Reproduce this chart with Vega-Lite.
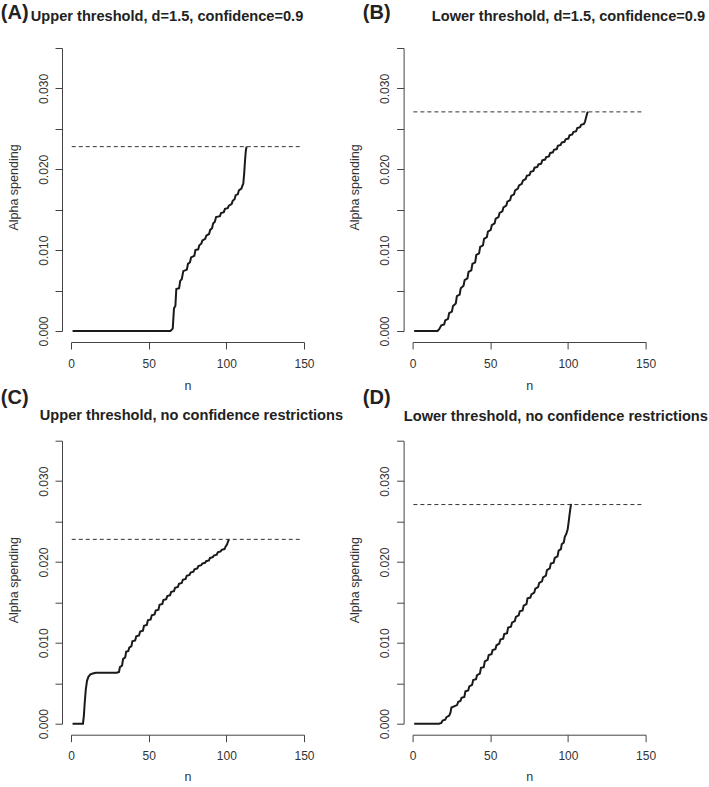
{
  "$schema": "https://vega.github.io/schema/vega-lite/v6.json",
  "background": "white",
  "padding": {"left": 0, "top": 2, "right": 0, "bottom": 0},
  "config": {
    "view": {"stroke": null},
    "font": "Liberation Sans",
    "axis": {
      "grid": false,
      "domainColor": "#444",
      "tickColor": "#444",
      "labelColor": "#333",
      "titleColor": "#333",
      "labelFont": "Liberation Sans",
      "titleFont": "Liberation Sans",
      "labelFontSize": 12,
      "titleFontSize": 12.5,
      "titleFontWeight": "normal",
      "tickSize": 7,
      "domainWidth": 1,
      "tickWidth": 1
    }
  },
  "datasets": {
    "curves": [
      {"panel": "A", "n": 1, "alpha": 0}, {"panel": "A", "n": 64, "alpha": 0}, {"panel": "A", "n": 65.5, "alpha": 0.0003}, {"panel": "A", "n": 66.3, "alpha": 0.0028}, {"panel": "A", "n": 67.2, "alpha": 0.0031}, {"panel": "A", "n": 67.8, "alpha": 0.0052}, {"panel": "A", "n": 69.6, "alpha": 0.0053}, {"panel": "A", "n": 70.3, "alpha": 0.0062}, {"panel": "A", "n": 71.3, "alpha": 0.0064}, {"panel": "A", "n": 72.3, "alpha": 0.0074}, {"panel": "A", "n": 74.6, "alpha": 0.0076}, {"panel": "A", "n": 75.3, "alpha": 0.0083}, {"panel": "A", "n": 76.6, "alpha": 0.0085}, {"panel": "A", "n": 77.3, "alpha": 0.0091}, {"panel": "A", "n": 79.4, "alpha": 0.0093}, {"panel": "A", "n": 80.1, "alpha": 0.0100}, {"panel": "A", "n": 81.9, "alpha": 0.0101}, {"panel": "A", "n": 82.6, "alpha": 0.0106}, {"panel": "A", "n": 83.9, "alpha": 0.0108}, {"panel": "A", "n": 84.6, "alpha": 0.0112}, {"panel": "A", "n": 86.4, "alpha": 0.0114}, {"panel": "A", "n": 87.1, "alpha": 0.0118}, {"panel": "A", "n": 88.9, "alpha": 0.0120}, {"panel": "A", "n": 89.6, "alpha": 0.0125}, {"panel": "A", "n": 90.8, "alpha": 0.0127}, {"panel": "A", "n": 91.5, "alpha": 0.0133}, {"panel": "A", "n": 92.6, "alpha": 0.0135}, {"panel": "A", "n": 93.4, "alpha": 0.0141}, {"panel": "A", "n": 95.9, "alpha": 0.0142}, {"panel": "A", "n": 96.6, "alpha": 0.0146}, {"panel": "A", "n": 98.4, "alpha": 0.0147}, {"panel": "A", "n": 99.1, "alpha": 0.0151}, {"panel": "A", "n": 100.9, "alpha": 0.0152}, {"panel": "A", "n": 101.6, "alpha": 0.0155}, {"panel": "A", "n": 103.4, "alpha": 0.0157}, {"panel": "A", "n": 104.1, "alpha": 0.0161}, {"panel": "A", "n": 105.3, "alpha": 0.0163}, {"panel": "A", "n": 106, "alpha": 0.0168}, {"panel": "A", "n": 107.4, "alpha": 0.0169}, {"panel": "A", "n": 108.1, "alpha": 0.0174}, {"panel": "A", "n": 109.7, "alpha": 0.0176}, {"panel": "A", "n": 110.4, "alpha": 0.0180}, {"panel": "A", "n": 110.9, "alpha": 0.0182}, {"panel": "A", "n": 111.5, "alpha": 0.0195}, {"panel": "A", "n": 112, "alpha": 0.0210}, {"panel": "A", "n": 112.5, "alpha": 0.0222}, {"panel": "A", "n": 113, "alpha": 0.0228},

      {"panel": "B", "n": 1, "alpha": 0}, {"panel": "B", "n": 16, "alpha": 0}, {"panel": "B", "n": 17, "alpha": 0.0002}, {"panel": "B", "n": 18.5, "alpha": 0.0007}, {"panel": "B", "n": 20.3, "alpha": 0.0008}, {"panel": "B", "n": 21, "alpha": 0.0013}, {"panel": "B", "n": 22.8, "alpha": 0.0015}, {"panel": "B", "n": 23.5, "alpha": 0.0022}, {"panel": "B", "n": 25.3, "alpha": 0.0024}, {"panel": "B", "n": 26, "alpha": 0.0031}, {"panel": "B", "n": 27.8, "alpha": 0.0034}, {"panel": "B", "n": 28.5, "alpha": 0.0043}, {"panel": "B", "n": 30.3, "alpha": 0.0045}, {"panel": "B", "n": 31, "alpha": 0.0053}, {"panel": "B", "n": 32.8, "alpha": 0.0056}, {"panel": "B", "n": 33.5, "alpha": 0.0063}, {"panel": "B", "n": 35.3, "alpha": 0.0065}, {"panel": "B", "n": 36, "alpha": 0.0073}, {"panel": "B", "n": 37.8, "alpha": 0.0075}, {"panel": "B", "n": 38.5, "alpha": 0.0083}, {"panel": "B", "n": 40.3, "alpha": 0.0085}, {"panel": "B", "n": 41, "alpha": 0.0094}, {"panel": "B", "n": 42.8, "alpha": 0.0096}, {"panel": "B", "n": 43.5, "alpha": 0.0104}, {"panel": "B", "n": 45.3, "alpha": 0.0106}, {"panel": "B", "n": 46, "alpha": 0.0114}, {"panel": "B", "n": 47.8, "alpha": 0.0116}, {"panel": "B", "n": 48.5, "alpha": 0.0123}, {"panel": "B", "n": 50.3, "alpha": 0.0125}, {"panel": "B", "n": 51, "alpha": 0.0131}, {"panel": "B", "n": 52.8, "alpha": 0.0133}, {"panel": "B", "n": 53.5, "alpha": 0.0139}, {"panel": "B", "n": 55.3, "alpha": 0.0141}, {"panel": "B", "n": 56, "alpha": 0.0146}, {"panel": "B", "n": 57.8, "alpha": 0.0148}, {"panel": "B", "n": 58.5, "alpha": 0.0153}, {"panel": "B", "n": 60.3, "alpha": 0.0155}, {"panel": "B", "n": 61, "alpha": 0.0160}, {"panel": "B", "n": 62.8, "alpha": 0.0162}, {"panel": "B", "n": 63.5, "alpha": 0.0167}, {"panel": "B", "n": 65.3, "alpha": 0.0169}, {"panel": "B", "n": 66, "alpha": 0.0174}, {"panel": "B", "n": 67.8, "alpha": 0.0176}, {"panel": "B", "n": 68.5, "alpha": 0.0180}, {"panel": "B", "n": 70.3, "alpha": 0.0182}, {"panel": "B", "n": 71, "alpha": 0.0186}, {"panel": "B", "n": 72.8, "alpha": 0.0188}, {"panel": "B", "n": 73.5, "alpha": 0.0192}, {"panel": "B", "n": 75.3, "alpha": 0.0193}, {"panel": "B", "n": 76, "alpha": 0.0197}, {"panel": "B", "n": 77.8, "alpha": 0.0198}, {"panel": "B", "n": 78.5, "alpha": 0.0202}, {"panel": "B", "n": 80.3, "alpha": 0.0203}, {"panel": "B", "n": 81, "alpha": 0.0206}, {"panel": "B", "n": 82.8, "alpha": 0.0207}, {"panel": "B", "n": 83.5, "alpha": 0.0211}, {"panel": "B", "n": 85.3, "alpha": 0.0212}, {"panel": "B", "n": 86, "alpha": 0.0215}, {"panel": "B", "n": 87.8, "alpha": 0.0216}, {"panel": "B", "n": 88.5, "alpha": 0.0220}, {"panel": "B", "n": 90.3, "alpha": 0.0221}, {"panel": "B", "n": 91, "alpha": 0.0224}, {"panel": "B", "n": 92.8, "alpha": 0.0225}, {"panel": "B", "n": 93.5, "alpha": 0.0229}, {"panel": "B", "n": 95.3, "alpha": 0.0230}, {"panel": "B", "n": 96, "alpha": 0.0233}, {"panel": "B", "n": 97.8, "alpha": 0.0234}, {"panel": "B", "n": 98.5, "alpha": 0.0237}, {"panel": "B", "n": 100.3, "alpha": 0.0238}, {"panel": "B", "n": 101, "alpha": 0.0242}, {"panel": "B", "n": 102.8, "alpha": 0.0243}, {"panel": "B", "n": 103.5, "alpha": 0.0246}, {"panel": "B", "n": 105.3, "alpha": 0.0247}, {"panel": "B", "n": 106, "alpha": 0.0251}, {"panel": "B", "n": 107.8, "alpha": 0.0252}, {"panel": "B", "n": 108.5, "alpha": 0.0255}, {"panel": "B", "n": 110.3, "alpha": 0.0256}, {"panel": "B", "n": 111, "alpha": 0.0259}, {"panel": "B", "n": 111.8, "alpha": 0.0265}, {"panel": "B", "n": 112.5, "alpha": 0.0270}, {"panel": "B", "n": 113, "alpha": 0.0271},

      {"panel": "C", "n": 1, "alpha": 0}, {"panel": "C", "n": 7.7, "alpha": 0}, {"panel": "C", "n": 8.3, "alpha": 0.0010}, {"panel": "C", "n": 8.8, "alpha": 0.0025}, {"panel": "C", "n": 9.5, "alpha": 0.0042}, {"panel": "C", "n": 10.3, "alpha": 0.0053}, {"panel": "C", "n": 11.2, "alpha": 0.0058}, {"panel": "C", "n": 12.5, "alpha": 0.0061}, {"panel": "C", "n": 14, "alpha": 0.0062}, {"panel": "C", "n": 16, "alpha": 0.0063}, {"panel": "C", "n": 29.5, "alpha": 0.0063}, {"panel": "C", "n": 30.9, "alpha": 0.0064}, {"panel": "C", "n": 31.5, "alpha": 0.0070}, {"panel": "C", "n": 32.9, "alpha": 0.0072}, {"panel": "C", "n": 33.5, "alpha": 0.0080}, {"panel": "C", "n": 34.9, "alpha": 0.0082}, {"panel": "C", "n": 35.5, "alpha": 0.0089}, {"panel": "C", "n": 36.9, "alpha": 0.0090}, {"panel": "C", "n": 37.5, "alpha": 0.0094}, {"panel": "C", "n": 38.9, "alpha": 0.0096}, {"panel": "C", "n": 39.5, "alpha": 0.0102}, {"panel": "C", "n": 41.3, "alpha": 0.0103}, {"panel": "C", "n": 42, "alpha": 0.0108}, {"panel": "C", "n": 43.8, "alpha": 0.0109}, {"panel": "C", "n": 44.5, "alpha": 0.0114}, {"panel": "C", "n": 46.3, "alpha": 0.0115}, {"panel": "C", "n": 47, "alpha": 0.0121}, {"panel": "C", "n": 48.8, "alpha": 0.0122}, {"panel": "C", "n": 49.5, "alpha": 0.0128}, {"panel": "C", "n": 51.3, "alpha": 0.0129}, {"panel": "C", "n": 52, "alpha": 0.0134}, {"panel": "C", "n": 53.8, "alpha": 0.0135}, {"panel": "C", "n": 54.5, "alpha": 0.0140}, {"panel": "C", "n": 56.3, "alpha": 0.0141}, {"panel": "C", "n": 57, "alpha": 0.0147}, {"panel": "C", "n": 58.8, "alpha": 0.0148}, {"panel": "C", "n": 59.5, "alpha": 0.0153}, {"panel": "C", "n": 61.3, "alpha": 0.0154}, {"panel": "C", "n": 62, "alpha": 0.0158}, {"panel": "C", "n": 63.8, "alpha": 0.0159}, {"panel": "C", "n": 64.5, "alpha": 0.0163}, {"panel": "C", "n": 66.3, "alpha": 0.0164}, {"panel": "C", "n": 67, "alpha": 0.0168}, {"panel": "C", "n": 68.8, "alpha": 0.0169}, {"panel": "C", "n": 69.5, "alpha": 0.0173}, {"panel": "C", "n": 71.3, "alpha": 0.0174}, {"panel": "C", "n": 72, "alpha": 0.0178}, {"panel": "C", "n": 73.8, "alpha": 0.0179}, {"panel": "C", "n": 74.5, "alpha": 0.0183}, {"panel": "C", "n": 76.3, "alpha": 0.0184}, {"panel": "C", "n": 77, "alpha": 0.0187}, {"panel": "C", "n": 78.8, "alpha": 0.0188}, {"panel": "C", "n": 79.5, "alpha": 0.0191}, {"panel": "C", "n": 81.3, "alpha": 0.0192}, {"panel": "C", "n": 82, "alpha": 0.0195}, {"panel": "C", "n": 83.8, "alpha": 0.0196}, {"panel": "C", "n": 84.5, "alpha": 0.0198}, {"panel": "C", "n": 86.3, "alpha": 0.0199}, {"panel": "C", "n": 87, "alpha": 0.0201}, {"panel": "C", "n": 88.8, "alpha": 0.0202}, {"panel": "C", "n": 89.5, "alpha": 0.0205}, {"panel": "C", "n": 91.3, "alpha": 0.0206}, {"panel": "C", "n": 92, "alpha": 0.0208}, {"panel": "C", "n": 93.8, "alpha": 0.0209}, {"panel": "C", "n": 94.5, "alpha": 0.0212}, {"panel": "C", "n": 96.3, "alpha": 0.0213}, {"panel": "C", "n": 97, "alpha": 0.0215}, {"panel": "C", "n": 98.8, "alpha": 0.0216}, {"panel": "C", "n": 99.5, "alpha": 0.0219}, {"panel": "C", "n": 100.5, "alpha": 0.0222}, {"panel": "C", "n": 101.2, "alpha": 0.0226}, {"panel": "C", "n": 101.8, "alpha": 0.0228},

      {"panel": "D", "n": 1, "alpha": 0}, {"panel": "D", "n": 17, "alpha": 0}, {"panel": "D", "n": 18.5, "alpha": 0.0001}, {"panel": "D", "n": 19.3, "alpha": 0.0004}, {"panel": "D", "n": 21, "alpha": 0.0005}, {"panel": "D", "n": 21.8, "alpha": 0.0008}, {"panel": "D", "n": 23.6, "alpha": 0.0010}, {"panel": "D", "n": 24.4, "alpha": 0.0014}, {"panel": "D", "n": 25, "alpha": 0.0020}, {"panel": "D", "n": 28.6, "alpha": 0.0023}, {"panel": "D", "n": 29.4, "alpha": 0.0027}, {"panel": "D", "n": 30.8, "alpha": 0.0028}, {"panel": "D", "n": 31.5, "alpha": 0.0032}, {"panel": "D", "n": 33.3, "alpha": 0.0033}, {"panel": "D", "n": 34, "alpha": 0.0040}, {"panel": "D", "n": 35.8, "alpha": 0.0041}, {"panel": "D", "n": 36.5, "alpha": 0.0046}, {"panel": "D", "n": 38.3, "alpha": 0.0048}, {"panel": "D", "n": 39, "alpha": 0.0054}, {"panel": "D", "n": 40.8, "alpha": 0.0055}, {"panel": "D", "n": 41.5, "alpha": 0.0060}, {"panel": "D", "n": 43.3, "alpha": 0.0062}, {"panel": "D", "n": 44, "alpha": 0.0069}, {"panel": "D", "n": 45.8, "alpha": 0.0070}, {"panel": "D", "n": 46.5, "alpha": 0.0077}, {"panel": "D", "n": 48.3, "alpha": 0.0079}, {"panel": "D", "n": 49, "alpha": 0.0085}, {"panel": "D", "n": 50.8, "alpha": 0.0086}, {"panel": "D", "n": 51.5, "alpha": 0.0091}, {"panel": "D", "n": 53.3, "alpha": 0.0092}, {"panel": "D", "n": 54, "alpha": 0.0097}, {"panel": "D", "n": 55.8, "alpha": 0.0099}, {"panel": "D", "n": 56.5, "alpha": 0.0104}, {"panel": "D", "n": 58.3, "alpha": 0.0105}, {"panel": "D", "n": 59, "alpha": 0.0111}, {"panel": "D", "n": 60.8, "alpha": 0.0112}, {"panel": "D", "n": 61.5, "alpha": 0.0119}, {"panel": "D", "n": 63.3, "alpha": 0.0120}, {"panel": "D", "n": 64, "alpha": 0.0125}, {"panel": "D", "n": 65.8, "alpha": 0.0127}, {"panel": "D", "n": 66.5, "alpha": 0.0132}, {"panel": "D", "n": 68.3, "alpha": 0.0134}, {"panel": "D", "n": 69, "alpha": 0.0139}, {"panel": "D", "n": 70.8, "alpha": 0.0140}, {"panel": "D", "n": 71.5, "alpha": 0.0146}, {"panel": "D", "n": 73.3, "alpha": 0.0148}, {"panel": "D", "n": 74, "alpha": 0.0155}, {"panel": "D", "n": 75.8, "alpha": 0.0156}, {"panel": "D", "n": 76.5, "alpha": 0.0160}, {"panel": "D", "n": 78.3, "alpha": 0.0162}, {"panel": "D", "n": 79, "alpha": 0.0167}, {"panel": "D", "n": 80.8, "alpha": 0.0169}, {"panel": "D", "n": 81.5, "alpha": 0.0174}, {"panel": "D", "n": 83.3, "alpha": 0.0176}, {"panel": "D", "n": 84, "alpha": 0.0181}, {"panel": "D", "n": 85.8, "alpha": 0.0183}, {"panel": "D", "n": 86.5, "alpha": 0.0190}, {"panel": "D", "n": 88.3, "alpha": 0.0192}, {"panel": "D", "n": 89, "alpha": 0.0198}, {"panel": "D", "n": 90.8, "alpha": 0.0199}, {"panel": "D", "n": 91.5, "alpha": 0.0205}, {"panel": "D", "n": 93.3, "alpha": 0.0207}, {"panel": "D", "n": 94, "alpha": 0.0214}, {"panel": "D", "n": 95.5, "alpha": 0.0216}, {"panel": "D", "n": 96, "alpha": 0.0222}, {"panel": "D", "n": 97.3, "alpha": 0.0224}, {"panel": "D", "n": 98, "alpha": 0.0231}, {"panel": "D", "n": 99, "alpha": 0.0235}, {"panel": "D", "n": 99.8, "alpha": 0.0240}, {"panel": "D", "n": 100.5, "alpha": 0.0250}, {"panel": "D", "n": 101, "alpha": 0.0258}, {"panel": "D", "n": 101.5, "alpha": 0.0265}, {"panel": "D", "n": 102, "alpha": 0.0272}
    ],
    "thresholds": [
      {"panel": "A", "start": 0.5, "end": 149, "value": 0.0228},
      {"panel": "B", "start": 0.5, "end": 149, "value": 0.0271},
      {"panel": "C", "start": 0.5, "end": 149, "value": 0.0228},
      {"panel": "D", "start": 0.5, "end": 149, "value": 0.0271}
    ]
  },
  "columns": 2,
  "bounds": "flush",
  "spacing": {"column": 108.6, "row": 109.7},
  "concat": [
    {
      "width": 233, "height": 283,
      "layer": [
        {
          "data": {"name": "curves"},
          "transform": [{"filter": "datum.panel == 'A'"}],
          "mark": {"type": "line", "stroke": "#1a1a1a", "strokeWidth": 2},
          "encoding": {
            "x": {"field": "n", "type": "quantitative", "scale": {"domain": [0, 150], "nice": false, "zero": false},
              "axis": {"orient": "bottom", "values": [0, 50, 100, 150], "offset": 11, "title": "n", "titleColor": "#333", "titleX": 116.5, "titleY": 47, "titleAlign": "center", "titleBaseline": "alphabetic", "labelBaseline": "top", "labelPadding": 9, "labelFlush": false, "labelOverlap": false}},
            "y": {"field": "alpha", "type": "quantitative", "scale": {"domain": [0, 0.035], "nice": false},
              "axis": {"orient": "left", "values": [0, 0.005, 0.01, 0.015, 0.02, 0.025, 0.03, 0.035], "offset": 9, "title": "Alpha spending", "titleAngle": 270, "titleX": -45, "titleY": 139, "titleAlign": "center", "titleBaseline": "alphabetic", "labelAngle": 270, "labelAlign": "center", "labelBaseline": "alphabetic", "labelPadding": 8, "labelFlush": false, "labelOverlap": false, "labelExpr": "round(datum.value*1000) % 10 == 0 ? format(datum.value, '.3f') : ''"}}
          }
        },
        {
          "data": {"name": "thresholds"},
          "transform": [{"filter": "datum.panel == 'A'"}],
          "mark": {"type": "rule", "stroke": "#333", "strokeWidth": 1, "strokeDash": [4, 3]},
          "encoding": {
            "x": {"field": "start", "type": "quantitative", "scale": {"domain": [0, 150], "nice": false, "zero": false},
              "axis": {"orient": "top", "domain": false, "ticks": false, "labels": false, "title": "Upper threshold, d=1.5, confidence=0.9", "titleX": -40.7, "titleY": -27.4, "titleAlign": "left", "titleBaseline": "alphabetic", "titleFontSize": 14.6, "titleFontWeight": "bold", "titleColor": "#222"}},
            "x2": {"field": "end"},
            "y": {"field": "value", "type": "quantitative",
              "axis": {"orient": "right", "domain": false, "ticks": false, "labels": false, "title": "(A)", "titleAngle": 0, "titleX": -303.7, "titleY": -30, "titleAlign": "left", "titleBaseline": "alphabetic", "titleFontSize": 20, "titleFontWeight": "bold", "titleColor": "#222"}}
          }
        }
      ],
      "resolve": {"axis": {"x": "independent", "y": "independent"}}
    },
    {
      "width": 233, "height": 283,
      "layer": [
        {
          "data": {"name": "curves"},
          "transform": [{"filter": "datum.panel == 'B'"}],
          "mark": {"type": "line", "stroke": "#1a1a1a", "strokeWidth": 2},
          "encoding": {
            "x": {"field": "n", "type": "quantitative", "scale": {"domain": [0, 150], "nice": false, "zero": false},
              "axis": {"orient": "bottom", "values": [0, 50, 100, 150], "offset": 11, "title": "n", "titleColor": "#333", "titleX": 116.5, "titleY": 47, "titleAlign": "center", "titleBaseline": "alphabetic", "labelBaseline": "top", "labelPadding": 9, "labelFlush": false, "labelOverlap": false}},
            "y": {"field": "alpha", "type": "quantitative", "scale": {"domain": [0, 0.035], "nice": false},
              "axis": {"orient": "left", "values": [0, 0.005, 0.01, 0.015, 0.02, 0.025, 0.03, 0.035], "offset": 9, "title": "Alpha spending", "titleAngle": 270, "titleX": -45, "titleY": 139, "titleAlign": "center", "titleBaseline": "alphabetic", "labelAngle": 270, "labelAlign": "center", "labelBaseline": "alphabetic", "labelPadding": 8, "labelFlush": false, "labelOverlap": false, "labelExpr": "round(datum.value*1000) % 10 == 0 ? format(datum.value, '.3f') : ''"}}
          }
        },
        {
          "data": {"name": "thresholds"},
          "transform": [{"filter": "datum.panel == 'B'"}],
          "mark": {"type": "rule", "stroke": "#333", "strokeWidth": 1, "strokeDash": [4, 3]},
          "encoding": {
            "x": {"field": "start", "type": "quantitative", "scale": {"domain": [0, 150], "nice": false, "zero": false},
              "axis": {"orient": "top", "domain": false, "ticks": false, "labels": false, "title": "Lower threshold, d=1.5, confidence=0.9", "titleX": 18.7, "titleY": -27.3, "titleAlign": "left", "titleBaseline": "alphabetic", "titleFontSize": 14.6, "titleFontWeight": "bold", "titleColor": "#222"}},
            "x2": {"field": "end"},
            "y": {"field": "value", "type": "quantitative",
              "axis": {"orient": "right", "domain": false, "ticks": false, "labels": false, "title": "(B)", "titleAngle": 0, "titleX": -283.3, "titleY": -30, "titleAlign": "left", "titleBaseline": "alphabetic", "titleFontSize": 20, "titleFontWeight": "bold", "titleColor": "#222"}}
          }
        }
      ],
      "resolve": {"axis": {"x": "independent", "y": "independent"}}
    },
    {
      "width": 233, "height": 283,
      "layer": [
        {
          "data": {"name": "curves"},
          "transform": [{"filter": "datum.panel == 'C'"}],
          "mark": {"type": "line", "stroke": "#1a1a1a", "strokeWidth": 2},
          "encoding": {
            "x": {"field": "n", "type": "quantitative", "scale": {"domain": [0, 150], "nice": false, "zero": false},
              "axis": {"orient": "bottom", "values": [0, 50, 100, 150], "offset": 11, "title": "n", "titleColor": "#333", "titleX": 116.5, "titleY": 46, "titleAlign": "center", "titleBaseline": "alphabetic", "labelBaseline": "top", "labelPadding": 9, "labelFlush": false, "labelOverlap": false}},
            "y": {"field": "alpha", "type": "quantitative", "scale": {"domain": [0, 0.035], "nice": false},
              "axis": {"orient": "left", "values": [0, 0.005, 0.01, 0.015, 0.02, 0.025, 0.03, 0.035], "offset": 9, "title": "Alpha spending", "titleAngle": 270, "titleX": -45, "titleY": 139, "titleAlign": "center", "titleBaseline": "alphabetic", "labelAngle": 270, "labelAlign": "center", "labelBaseline": "alphabetic", "labelPadding": 8, "labelFlush": false, "labelOverlap": false, "labelExpr": "round(datum.value*1000) % 10 == 0 ? format(datum.value, '.3f') : ''"}}
          }
        },
        {
          "data": {"name": "thresholds"},
          "transform": [{"filter": "datum.panel == 'C'"}],
          "mark": {"type": "rule", "stroke": "#333", "strokeWidth": 1, "strokeDash": [4, 3]},
          "encoding": {
            "x": {"field": "start", "type": "quantitative", "scale": {"domain": [0, 150], "nice": false, "zero": false},
              "axis": {"orient": "top", "domain": false, "ticks": false, "labels": false, "title": "Upper threshold, no confidence restrictions", "titleX": -31.7, "titleY": -21.4, "titleAlign": "left", "titleBaseline": "alphabetic", "titleFontSize": 14.6, "titleFontWeight": "bold", "titleColor": "#222"}},
            "x2": {"field": "end"},
            "y": {"field": "value", "type": "quantitative",
              "axis": {"orient": "right", "domain": false, "ticks": false, "labels": false, "title": "(C)", "titleAngle": 0, "titleX": -303.7, "titleY": -37.7, "titleAlign": "left", "titleBaseline": "alphabetic", "titleFontSize": 20, "titleFontWeight": "bold", "titleColor": "#222"}}
          }
        }
      ],
      "resolve": {"axis": {"x": "independent", "y": "independent"}}
    },
    {
      "width": 233, "height": 283,
      "layer": [
        {
          "data": {"name": "curves"},
          "transform": [{"filter": "datum.panel == 'D'"}],
          "mark": {"type": "line", "stroke": "#1a1a1a", "strokeWidth": 2},
          "encoding": {
            "x": {"field": "n", "type": "quantitative", "scale": {"domain": [0, 150], "nice": false, "zero": false},
              "axis": {"orient": "bottom", "values": [0, 50, 100, 150], "offset": 11, "title": "n", "titleColor": "#333", "titleX": 116.5, "titleY": 46, "titleAlign": "center", "titleBaseline": "alphabetic", "labelBaseline": "top", "labelPadding": 9, "labelFlush": false, "labelOverlap": false}},
            "y": {"field": "alpha", "type": "quantitative", "scale": {"domain": [0, 0.035], "nice": false},
              "axis": {"orient": "left", "values": [0, 0.005, 0.01, 0.015, 0.02, 0.025, 0.03, 0.035], "offset": 9, "title": "Alpha spending", "titleAngle": 270, "titleX": -45, "titleY": 139, "titleAlign": "center", "titleBaseline": "alphabetic", "labelAngle": 270, "labelAlign": "center", "labelBaseline": "alphabetic", "labelPadding": 8, "labelFlush": false, "labelOverlap": false, "labelExpr": "round(datum.value*1000) % 10 == 0 ? format(datum.value, '.3f') : ''"}}
          }
        },
        {
          "data": {"name": "thresholds"},
          "transform": [{"filter": "datum.panel == 'D'"}],
          "mark": {"type": "rule", "stroke": "#333", "strokeWidth": 1, "strokeDash": [4, 3]},
          "encoding": {
            "x": {"field": "start", "type": "quantitative", "scale": {"domain": [0, 150], "nice": false, "zero": false},
              "axis": {"orient": "top", "domain": false, "ticks": false, "labels": false, "title": "Lower threshold, no confidence restrictions", "titleX": -9.3, "titleY": -20.7, "titleAlign": "left", "titleBaseline": "alphabetic", "titleFontSize": 14.6, "titleFontWeight": "bold", "titleColor": "#222"}},
            "x2": {"field": "end"},
            "y": {"field": "value", "type": "quantitative",
              "axis": {"orient": "right", "domain": false, "ticks": false, "labels": false, "title": "(D)", "titleAngle": 0, "titleX": -283.3, "titleY": -37.7, "titleAlign": "left", "titleBaseline": "alphabetic", "titleFontSize": 20, "titleFontWeight": "bold", "titleColor": "#222"}}
          }
        }
      ],
      "resolve": {"axis": {"x": "independent", "y": "independent"}}
    }
  ]
}
